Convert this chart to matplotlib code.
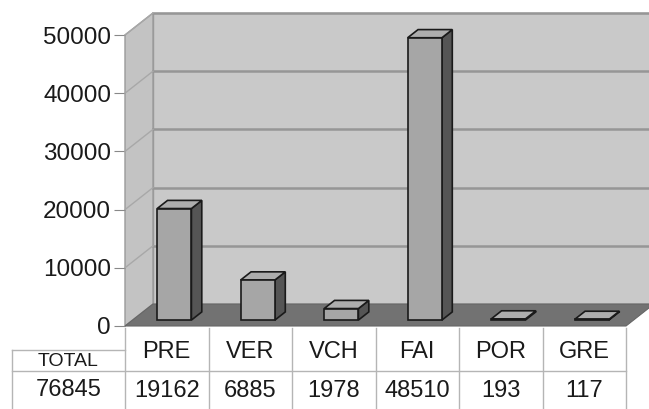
import matplotlib
matplotlib.use("Agg")
import matplotlib.pyplot as plt
from matplotlib.patches import Polygon
from matplotlib.lines import Line2D
from matplotlib.transforms import blended_transform_factory

categories = ["PRE", "VER", "VCH", "FAI", "POR", "GRE"]
values = [19162, 6885, 1978, 48510, 193, 117]
total_label = "TOTAL"
total_value = 76845
yticks = [0, 10000, 20000, 30000, 40000, 50000]

W, H = 649, 409
plt.rcParams["font.family"] = ["Liberation Sans", "DejaVu Sans"]

fig = plt.figure(figsize=(W / 100, H / 100), dpi=100)
# plot front plane in pixels
left, right, top, bottom = 125, 626, 35, 326
ax = fig.add_axes([left / W, (H - bottom) / H, (right - left) / W, (bottom - top) / H])
ax.set_xlim(-0.5, len(categories) - 0.5)
ax.set_ylim(0, 50000)
ax.patch.set_visible(False)
for s in ax.spines.values():
    s.set_visible(False)

# depth of the box in data units
col_px = (right - left) / len(categories)
v_per_px = 50000 / (bottom - top)
DX = 28 / col_px
DY = 22 * v_per_px
x0, x1 = -0.5, len(categories) - 0.5
ymax = 50000


def poly(pts, fc, ec="none", lw=0.8, z=1):
    ax.add_patch(Polygon(pts, closed=True, facecolor=fc, edgecolor=ec,
                         linewidth=lw, zorder=z, clip_on=False))


# walls
poly([(x0 + DX, DY), (x1 + DX, DY), (x1 + DX, ymax + DY), (x0 + DX, ymax + DY)],
     "#c9c9c9", "#9a9a9a", 1.0, 1)
poly([(x0, 0), (x0 + DX, DY), (x0 + DX, ymax + DY), (x0, ymax)],
     "#c3c3c3", "#9a9a9a", 1.0, 1)
for t in yticks[1:]:
    ax.add_line(Line2D([x0 + DX, x1 + DX], [t + DY, t + DY], color="#969696",
                       lw=1.8, zorder=2, clip_on=False))
    ax.add_line(Line2D([x0, x0 + DX], [t, t + DY], color="#a8a8a8",
                       lw=1.0, zorder=2, clip_on=False))
# floor
poly([(x0, 0), (x1, 0), (x1 + DX, DY), (x0 + DX, DY)], "#727272", "#666666", 0.8, 3)

# bars
bw = 0.41
f0, fd = 0.27, 0.37
for i, v in enumerate(values):
    bx = i - bw / 2 + f0 * DX
    by = f0 * DY
    ddx, ddy = fd * DX, fd * DY
    ax.bar(bx, v, width=bw, bottom=by, align="edge", color="#a6a6a6",
           edgecolor="#1a1a1a", linewidth=1.2, zorder=6, clip_on=False)
    poly([(bx + bw, by), (bx + bw + ddx, by + ddy), (bx + bw + ddx, by + v + ddy),
          (bx + bw, by + v)], "#555555", "#1a1a1a", 1.2, 5)
    poly([(bx, by + v), (bx + bw, by + v), (bx + bw + ddx, by + v + ddy),
          (bx + ddx, by + v + ddy)], "#adadad", "#1a1a1a", 1.2, 5)

# y axis
ax.set_xticks([])
ax.set_yticks(yticks)
ax.set_yticklabels([str(t) for t in yticks], fontsize=17.5, color="#1a1a1a")
ax.tick_params(axis="y", length=8, width=0.8, color="#888888", pad=2)

# data table below the chart
tr = blended_transform_factory(ax.transData, fig.transFigure)


def fy(py):
    return (H - py) / H


lc = "#b5b5b5"
row_top, row_mid, row_bot, tot_top = 328, 371, 409, 350
tot_left = -0.5 - (left - 12) / col_px
for xs, ys in [
    ([tot_left, x1], [row_mid, row_mid]),
    ([tot_left, -0.5], [tot_top, tot_top]),
    ([tot_left, tot_left], [tot_top, row_bot]),
    ([x1, x1], [row_top, row_bot]),
]:
    fig.add_artist(Line2D(xs, [fy(y) for y in ys], color=lc, lw=1.0, transform=tr))
for k in range(len(categories)):
    xb = k - 0.5
    fig.add_artist(Line2D([xb, xb], [fy(row_top), fy(row_bot)], color=lc, lw=1.0,
                          transform=tr))

for i, (c, v) in enumerate(zip(categories, values)):
    fig.text(i, fy(352), c, transform=tr, ha="center", va="center",
             fontsize=17, color="#1a1a1a")
    fig.text(i, fy(391), str(v), transform=tr, ha="center", va="center",
             fontsize=17, color="#1a1a1a")
tot_x = (tot_left - 0.5) / 2
fig.text(tot_x, fy(361), total_label, transform=tr, ha="center", va="center",
         fontsize=14, color="#1a1a1a")
fig.text(tot_x, fy(390), str(total_value), transform=tr, ha="center", va="center",
         fontsize=17, color="#1a1a1a")

fig.savefig("out.png", dpi=100)
